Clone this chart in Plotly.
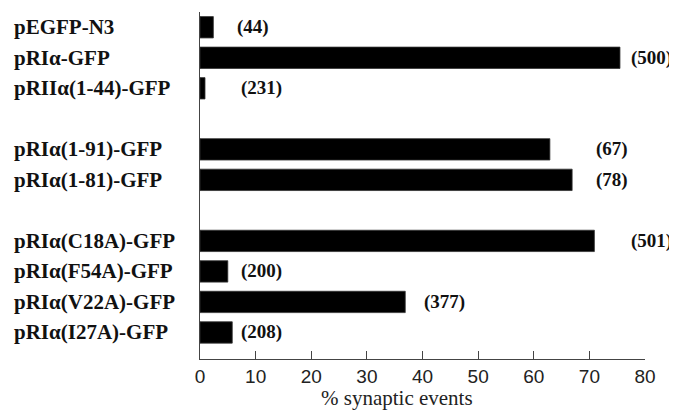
import plotly.graph_objects as go

# ---- data ----
categories = [
    "pEGFP-N3", "pRIα-GFP", "pRIIα(1-44)-GFP",
    "pRIα(1-91)-GFP", "pRIα(1-81)-GFP",
    "pRIα(C18A)-GFP", "pRIα(F54A)-GFP", "pRIα(V22A)-GFP", "pRIα(I27A)-GFP",
]
values = [2.4, 75.5, 0.9, 62.9, 66.9, 70.9, 5.0, 36.9, 5.8]
counts = ["(44)", "(500)", "(231)", "(67)", "(78)", "(501)", "(200)", "(377)", "(208)"]
group_sizes = [3, 2, 4]
x_ticks = [0, 10, 20, 30, 40, 50, 60, 70, 80]
x_title = "% synaptic events"

# ---- layout helpers ----
# one empty slot between groups
positions = []
slot = 0
for g in group_sizes:
    for _ in range(g):
        positions.append(slot)
        slot += 1
    slot += 1

# count-label anchor positions (data units) as placed in the figure
label_x = [6.3, 77.2, 7.0, 70.9, 70.9, 77.2, 7.0, 39.9, 7.0]

fig = go.Figure()
fig.add_trace(go.Bar(
    x=values, y=positions, orientation="h",
    marker=dict(color="black", line=dict(color="#333", width=0.8)),
    width=0.7, hoverinfo="skip",
))

annotations = []
for cat, pos in zip(categories, positions):
    annotations.append(dict(
        x=-0.4225, xref="paper", y=pos, yref="y", text="<b>" + cat + "</b>",
        showarrow=False, xanchor="left", yanchor="middle",
        font=dict(family="Liberation Serif", size=21, color="#111"),
    ))
for lx, pos, c in zip(label_x, positions, counts):
    annotations.append(dict(
        x=lx, xref="x", y=pos, yref="y", text="<b>" + c + "</b>", showarrow=False,
        xanchor="left", yanchor="middle",
        font=dict(family="Liberation Serif", size=19, color="#111"),
    ))
# axis title (sits left of the plot centre in the reference)
annotations.append(dict(
    x=0.443, xref="paper", y=0, yref="paper", yshift=-39, text=x_title,
    showarrow=False, xanchor="center", yanchor="middle",
    font=dict(family="Liberation Serif", size=21, color="#222"),
))

# the page body adds an 8px offset, so the figure is sized to compensate
fig.update_layout(
    width=669, height=403,
    margin=dict(l=192, r=32, t=4, b=52),
    paper_bgcolor="white", plot_bgcolor="white",
    showlegend=False,
    annotations=annotations,
    xaxis=dict(
        range=[0, 80], tickvals=x_ticks, ticktext=[str(t) for t in x_ticks],
        ticks="inside", ticklen=8, tickwidth=1, tickcolor="#444",
        showline=True, linecolor="#444", linewidth=1,
        showgrid=False, zeroline=False,
        tickfont=dict(family="Liberation Sans", size=19, color="#222"),
    ),
    yaxis=dict(
        range=[10.87, -0.5], showticklabels=False, ticks="",
        showline=True, linecolor="#444", linewidth=1,
        showgrid=False, zeroline=False,
    ),
)

fig.write_html("out.html")
